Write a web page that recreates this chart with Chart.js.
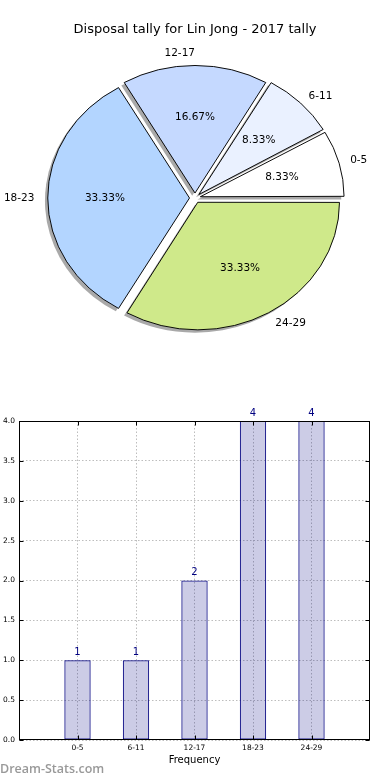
<!DOCTYPE html>
<html lang="en">
<head>
<meta charset="UTF-8">
<title>Disposal tally for Lin Jong - 2017 tally</title>
<script src="https://cdn.jsdelivr.net/npm/chart.js@4/dist/chart.umd.min.js"></script>
<style>
  html, body { margin: 0; padding: 0; background: #fff; }
  body { width: 390px; height: 780px; position: relative; overflow: hidden; }
  #pieBox { position: absolute; left: 0; top: 0; width: 390px; height: 396px; }
  #barBox { position: absolute; left: 0; top: 396px; width: 390px; height: 384px; }
  #mark { position: absolute; left: 0; top: 760px; font: 600 12.5px 'Open Sans', sans-serif; color: #999; }
</style>
</head>
<body>
<div id="pieBox"><canvas id="pie"></canvas></div>
<div id="barBox"><canvas id="bar"></canvas></div>
<div id="mark">Dream-Stats.com</div>
<script>
// data
const chartTitle = 'Disposal tally for Lin Jong - 2017 tally';
const categories = ['0-5', '6-11', '12-17', '18-23', '24-29'];
const tally = [1, 1, 2, 4, 4];
const yTicks = [0, 0.5, 1, 1.5, 2, 2.5, 3, 3.5, 4];
const xLabel = 'Frequency';

// styles
const sliceColors = ['#ffffff', '#eaf1ff', '#c5d9ff', '#b3d5ff', '#cfe98a'];
const SQUASH = 0.9;          // pie is drawn slightly flattened, like the source
const EXPLODE = 22;          // chart.js moves an arc by offset / 4
const SHADOW = { dx: -2.8, dy: 2.8, color: '#a9a9a9' };

Chart.defaults.font.family = "'DejaVu Sans', sans-serif";
Chart.defaults.color = '#000';

// matplotlib goes counter-clockwise from 3 o'clock, chart.js clockwise: reverse the order
const pieOrder = categories.map((_, i) => i).reverse();
const total = tally.reduce((a, b) => a + b, 0);

function arcGeom(a) {
  const d = a.options.offset / 4;
  const circ = a.endAngle - a.startAngle;
  const mid = (a.startAngle + a.endAngle) / 2;
  return { d, mid, r: a.outerRadius + d * (1 - Math.sin(Math.min(Math.PI, circ))) };
}

const squash = {
  id: 'squash',
  beforeDatasetsDraw(chart) {
    const ctx = chart.ctx;
    const arcs = chart.getDatasetMeta(0).data;
    const cy = arcs[0].y;
    ctx.save();
    ctx.translate(0, cy); ctx.scale(1, SQUASH); ctx.translate(0, -cy);
    ctx.fillStyle = SHADOW.color;
    arcs.forEach(a => {
      const g = arcGeom(a);
      const x = a.x + Math.cos(g.mid) * g.d + SHADOW.dx;
      const y = a.y + Math.sin(g.mid) * g.d + SHADOW.dy / SQUASH;
      ctx.beginPath();
      ctx.moveTo(x, y);
      ctx.arc(x, y, g.r, a.startAngle, a.endAngle);
      ctx.closePath();
      ctx.fill();
    });
  },
  afterDatasetsDraw(chart) { chart.ctx.restore(); }
};

const pieLabels = {
  id: 'pieLabels',
  afterDraw(chart) {
    const ctx = chart.ctx;
    const arcs = chart.getDatasetMeta(0).data;
    ctx.save();
    ctx.font = "10.5px 'DejaVu Sans'";
    ctx.fillStyle = '#000';
    ctx.textBaseline = 'middle';
    arcs.forEach((a, i) => {
      const g = arcGeom(a);
      const c = Math.cos(g.mid), s = Math.sin(g.mid);
      const R = a.outerRadius;
      const lx = a.x + c * (g.d + 1.1 * R);
      const ly = a.y + s * (g.d + 1.1 * R) * SQUASH;
      ctx.textAlign = c > 1e-9 ? 'left' : 'right';
      ctx.fillText(chart.data.labels[i], lx, ly);
      const v = chart.data.datasets[0].data[i];
      ctx.textAlign = 'center';
      ctx.fillText((v / total * 100).toFixed(2) + '%',
        a.x + c * (g.d + 0.6 * R), a.y + s * (g.d + 0.6 * R) * SQUASH);
    });
    ctx.restore();
  }
};

new Chart(document.getElementById('pie'), {
  type: 'pie',
  data: {
    labels: pieOrder.map(i => categories[i]),
    datasets: [{
      data: pieOrder.map(i => tally[i]),
      backgroundColor: pieOrder.map(i => sliceColors[i]),
      borderColor: '#000',
      borderWidth: 1,
      offset: EXPLODE,
      hoverOffset: EXPLODE,
      clip: false
    }]
  },
  options: {
    animation: false,
    responsive: true,
    maintainAspectRatio: false,
    rotation: 90,
    radius: 141,
    layout: { padding: { top: 0, bottom: 37.6, left: 0, right: 0 } },
    plugins: {
      legend: { display: false },
      tooltip: { enabled: false },
      title: {
        display: true, text: chartTitle, color: '#000',
        font: { size: 13, weight: 'normal', lineHeight: 1.2 },
        padding: { top: 22, bottom: 0 }
      }
    }
  },
  plugins: [squash, pieLabels]
});

// box round the plot area with inward tick marks
const frame = {
  id: 'frame',
  afterDatasetsDraw(chart) {
    const ctx = chart.ctx;
    const { left, right, top, bottom } = chart.chartArea;
    const L = Math.round(left) + 0.5, R = Math.round(right) - 0.5;
    const T = Math.round(top) + 0.5, B = Math.round(bottom) - 0.5;
    ctx.save();
    ctx.strokeStyle = '#000';
    ctx.lineWidth = 1;
    ctx.beginPath();
    chart.scales.y.ticks.forEach(t => {
      const y = Math.round(chart.scales.y.getPixelForValue(t.value)) + 0.5;
      ctx.moveTo(L, y); ctx.lineTo(L + 4, y);
      ctx.moveTo(R, y); ctx.lineTo(R - 4, y);
    });
    chart.scales.x.ticks.forEach(t => {
      const x = Math.round(chart.scales.x.getPixelForValue(t.value)) + 0.5;
      ctx.moveTo(x, B); ctx.lineTo(x, B - 4);
      ctx.moveTo(x, T); ctx.lineTo(x, T + 4);
    });
    ctx.stroke();
    ctx.strokeRect(L, T, R - L, B - T);
    ctx.restore();
  }
};

const barValues = {
  id: 'barValues',
  afterDatasetsDraw(chart) {
    const ctx = chart.ctx;
    ctx.save();
    ctx.font = "10px 'DejaVu Sans'";
    ctx.fillStyle = '#000080';
    ctx.textAlign = 'center';
    ctx.textBaseline = 'bottom';
    chart.getDatasetMeta(0).data.forEach((bar, i) => {
      ctx.fillText(String(tally[i]), bar.x, bar.y - 3);
    });
    ctx.restore();
  }
};

const gridStyle = { color: '#bdbdbd', lineWidth: 1, drawTicks: false, offset: false };

new Chart(document.getElementById('bar'), {
  type: 'bar',
  data: {
    datasets: [{
      data: categories.map((c, i) => ({ x: i, y: tally[i] })),
      backgroundColor: 'rgba(0,0,128,0.2)',
      borderColor: '#000080',
      borderWidth: 1,
      borderSkipped: false,
      barPercentage: 0.45,
      categoryPercentage: 1
    }]
  },
  options: {
    animation: false,
    responsive: true,
    maintainAspectRatio: false,
    layout: { padding: { top: 25, right: 20, bottom: 14, left: 0 } },
    plugins: { legend: { display: false }, tooltip: { enabled: false } },
    scales: {
      x: {
        type: 'linear', min: -1, max: 5, offset: false,
        afterBuildTicks: s => { s.ticks = categories.map((c, i) => ({ value: i })); },
        afterFit: s => { s.height = 26; },
        ticks: { callback: v => categories[v], font: { size: 7.5 }, color: '#000', padding: 4, maxRotation: 0, autoSkip: false },
        grid: gridStyle,
        border: { display: false, dash: [1.5, 2] },
        title: { display: true, text: xLabel, color: '#000', font: { size: 10 }, padding: 0 }
      },
      y: {
        min: 0, max: 4,
        afterBuildTicks: s => { s.ticks = yTicks.map(v => ({ value: v })); },
        afterFit: s => { s.width = 19; },
        ticks: { callback: v => v.toFixed(1), font: { size: 7.5 }, color: '#000', padding: 4 },
        grid: gridStyle,
        border: { display: false, dash: [1.5, 2] }
      }
    }
  },
  plugins: [frame, barValues]
});
</script>
</body>
</html>
